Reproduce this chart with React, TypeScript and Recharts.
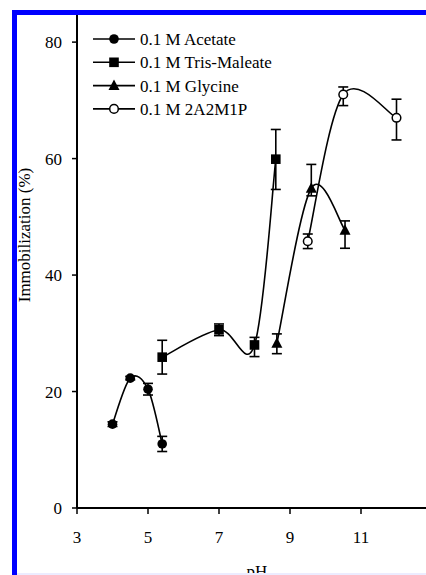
import React from "react";
import { LineChart, Line, XAxis, YAxis, ErrorBar, Legend } from "recharts";

// ---- data ----
const seriesNames = ["0.1 M Acetate", "0.1 M Tris-Maleate", "0.1 M Glycine", "0.1 M 2A2M1P"];

const acetatePH = [4.0, 4.5, 5.0, 5.4];
const acetateVal = [14.4, 22.3, 20.4, 11.0];
const acetateErr: [number, number][] = [[0.4, 0.4], [0.3, 0.3], [1.0, 1.0], [1.3, 1.3]];

const trisPH = [5.4, 7.0, 8.0, 8.6];
const trisVal = [25.9, 30.6, 28.0, 59.9];
const trisErr: [number, number][] = [[2.9, 2.9], [1.0, 1.0], [2.0, 1.3], [5.2, 5.1]];

const glyPH = [8.63, 9.6, 10.55];
const glyVal = [28.3, 54.9, 47.7];
const glyErr: [number, number][] = [[1.8, 1.6], [1.3, 4.1], [3.1, 1.6]];

const ampPH = [9.5, 10.5, 12.0];
const ampVal = [45.8, 71.0, 67.0];
const ampErr: [number, number][] = [[1.25, 1.25], [1.9, 1.3], [3.8, 3.2]];

const xTicks = [3, 5, 7, 9, 11];
const yTicks = [0, 20, 40, 60, 80];

const build = (xs: number[], ys: number[], es: [number, number][]) =>
  xs.map((x, i) => ({ x, y: ys[i], err: es[i] }));

const acetateData = build(acetatePH, acetateVal, acetateErr);
const trisData = build(trisPH, trisVal, trisErr);
const glyData = build(glyPH, glyVal, glyErr);
const ampData = build(ampPH, ampVal, ampErr);

const FONT = "'Liberation Serif', 'Times New Roman', serif";

// Excel-like smoothed line (uniform Catmull-Rom)
function smoothCurve(context: any) {
  let pts: [number, number][] = [];
  return {
    areaStart() {},
    areaEnd() {},
    lineStart() {
      pts = [];
    },
    lineEnd() {
      if (!pts.length) return;
      context.moveTo(pts[0][0], pts[0][1]);
      for (let i = 0; i < pts.length - 1; i++) {
        const p0 = pts[i - 1] || pts[i];
        const p1 = pts[i];
        const p2 = pts[i + 1];
        const p3 = pts[i + 2] || p2;
        context.bezierCurveTo(
          p1[0] + (p2[0] - p0[0]) / 6,
          p1[1] + (p2[1] - p0[1]) / 6,
          p2[0] - (p3[0] - p1[0]) / 6,
          p2[1] - (p3[1] - p1[1]) / 6,
          p2[0],
          p2[1]
        );
      }
    },
    point(x: number, y: number) {
      pts.push([+x, +y]);
    },
  };
}

type Shape = "circle" | "square" | "triangle" | "open";
const shapes: Shape[] = ["circle", "square", "triangle", "open"];

function Marker({ shape, cx, cy }: { shape: Shape; cx: number; cy: number }) {
  if (cx == null || cy == null) return null;
  if (shape === "circle") return <circle cx={cx} cy={cy} r={4.8} fill="#000" />;
  if (shape === "square")
    return <rect x={cx - 4.8} y={cy - 4.8} width={9.6} height={9.6} fill="#000" />;
  if (shape === "triangle")
    return (
      <polygon
        points={`${cx},${cy - 6} ${cx - 5.5},${cy + 4.5} ${cx + 5.5},${cy + 4.5}`}
        fill="#000"
      />
    );
  return <circle cx={cx} cy={cy} r={4.3} fill="#fff" stroke="#000" strokeWidth={1.5} />;
}

const makeDot = (shape: Shape) => (p: any) =>
  <Marker key={`${shape}-${p.index}`} shape={shape} cx={p.cx} cy={p.cy} />;

const renderLegend = () => (
  <svg width={260} height={100} style={{ display: "block" }}>
    {seriesNames.map((name, i) => {
      const y = 12 + i * 23.3;
      return (
        <g key={name}>
          <line x1={3} x2={45} y1={y} y2={y} stroke="#000" strokeWidth={1.6} />
          <Marker shape={shapes[i]} cx={24} cy={y} />
          <text x={50} y={y} dy="0.35em" fontSize={17} fontFamily={FONT} fill="#000">
            {name}
          </text>
        </g>
      );
    })}
  </svg>
);

const tickStyle = { fontSize: 17, fontFamily: FONT, fill: "#000" };

export default function App() {
  return (
    <div
      style={{
        position: "fixed",
        left: 0,
        top: 0,
        width: 426,
        height: 575,
        overflow: "hidden",
        background: "#fff",
      }}
    >
      <div style={{ position: "absolute", left: 0, top: 0 }}>
        <LineChart
          width={440}
          height={600}
          margin={{ top: 13, right: 8, left: 0, bottom: 52 }}
        >
          <XAxis
            type="number"
            dataKey="x"
            domain={[3, 13]}
            ticks={xTicks}
            allowDataOverflow
            stroke="#000"
            strokeWidth={2}
            tickSize={6}
            tickMargin={17}
            height={40}
            tick={tickStyle}
            axisLine={{ stroke: "#000", strokeWidth: 2 }}
            tickLine={{ stroke: "#000", strokeWidth: 1.5 }}
            label={{
              content: () => (
                <text x={257} y={577} textAnchor="middle" fontSize={17} fontFamily={FONT} fill="#000">
                  pH
                </text>
              ),
            }}
          />
          <YAxis
            type="number"
            domain={[0, 85]}
            ticks={yTicks}
            allowDataOverflow
            width={77}
            tickSize={5}
            tickMargin={10}
            tick={tickStyle}
            axisLine={{ stroke: "#000", strokeWidth: 2 }}
            tickLine={{ stroke: "#000", strokeWidth: 1.5 }}
            label={{
              content: () => (
                <text
                  x={24}
                  y={235}
                  transform="rotate(-90 24 235)"
                  textAnchor="middle"
                  dominantBaseline="central"
                  fontSize={17}
                  fontFamily={FONT}
                  fill="#000"
                >
                  Immobilization (%)
                </text>
              ),
            }}
          />
          <Legend
            layout="horizontal"
            verticalAlign="middle"
            align="center"
            content={renderLegend}
            wrapperStyle={{ position: "absolute", left: 90, top: 27, width: 260, height: 100 }}
          />
          {[
            { data: acetateData, shape: shapes[0], name: seriesNames[0] },
            { data: trisData, shape: shapes[1], name: seriesNames[1] },
            { data: glyData, shape: shapes[2], name: seriesNames[2] },
            { data: ampData, shape: shapes[3], name: seriesNames[3] },
          ].map((s) => (
            <Line
              key={s.name}
              name={s.name}
              data={s.data}
              dataKey="y"
              type={smoothCurve as any}
              stroke="#000"
              strokeWidth={1.6}
              dot={makeDot(s.shape)}
              activeDot={false}
              isAnimationActive={false}
            >
              <ErrorBar dataKey="err" direction="y" width={5} stroke="#000" strokeWidth={1.6} />
            </Line>
          ))}
        </LineChart>
      </div>
      <div style={{ position: "absolute", left: 12, top: 10, width: 414, height: 5, background: "#0000ff" }} />
      <div style={{ position: "absolute", left: 12, top: 10, width: 5, height: 565, background: "#0000ff" }} />
      <div style={{ position: "absolute", left: 17, top: 573, width: 409, height: 2, background: "#ececff" }} />
    </div>
  );
}
